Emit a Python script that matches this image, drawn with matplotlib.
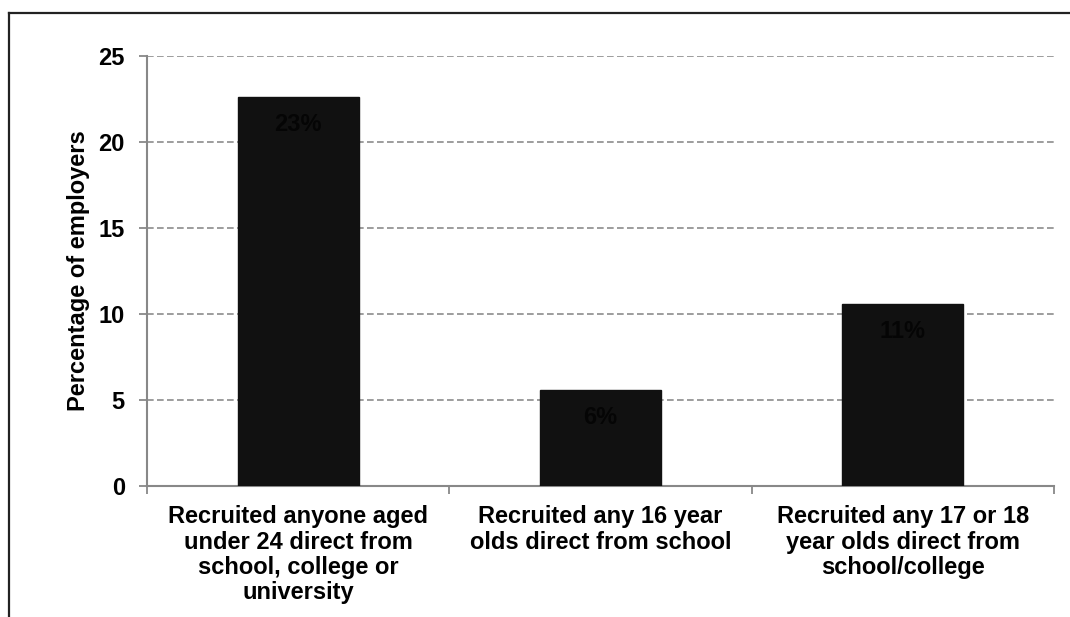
import matplotlib
matplotlib.use("Agg")
import matplotlib.pyplot as plt
from matplotlib.lines import Line2D
import numpy as np

categories = [
    "Recruited anyone aged\nunder 24 direct from\nschool, college or\nuniversity",
    "Recruited any 16 year\nolds direct from school",
    "Recruited any 17 or 18\nyear olds direct from\nschool/college",
]
values = [22.6, 5.6, 10.6]
value_labels = ["23%", "6%", "11%"]
y_ticks = [0, 5, 10, 15, 20, 25]
y_label = "Percentage of employers"

plt.rcParams["font.family"] = ["Liberation Sans", "DejaVu Sans"]
plt.rcParams["font.weight"] = "bold"

fig = plt.figure(figsize=(10.70, 6.17), dpi=100)
ax = fig.add_axes([0.1374, 0.2123, 0.8476, 0.6969])

x = np.arange(len(categories))
ax.bar(x, values, width=0.4, color="#111111", edgecolor="#111111", zorder=3)

for xi, v, lab in zip(x, values, value_labels):
    ax.text(xi, v - 1.6, lab, ha="center", va="center", fontsize=17,
            fontweight="bold", color="#050505", zorder=4)

ax.set_xlim(-0.5, len(categories) - 0.5)
ax.set_ylim(0, 25)
ax.set_yticks(y_ticks)
ax.set_yticklabels([str(t) for t in y_ticks], fontsize=17, fontweight="bold")

# category boundary ticks with labels centred between them
ax.set_xticks(np.arange(len(categories) + 1) - 0.5)
ax.set_xticklabels([])
ax.set_xticks(x, minor=True)
ax.set_xticklabels(categories, minor=True, fontsize=17, fontweight="bold",
                   linespacing=1.12)
ax.tick_params(axis="x", which="minor", length=0, pad=14)
ax.tick_params(axis="x", which="major", length=6, width=1.3, color="#888888",
               direction="out")
ax.tick_params(axis="y", length=6, width=1.3, color="#888888", pad=10)

ax.yaxis.grid(True, linestyle=(0, (4, 2)), color="#8c8c8c", linewidth=1.2, zorder=0)
ax.set_axisbelow(True)

for side in ["top", "right"]:
    ax.spines[side].set_visible(False)
for side in ["left", "bottom"]:
    ax.spines[side].set_color("#888888")
    ax.spines[side].set_linewidth(1.5)

ax.set_ylabel(y_label, fontsize=17, fontweight="bold", labelpad=6)

# outer frame on the left and top edges
fig.add_artist(Line2D([9 / 1070, 9 / 1070], [0, 1 - 13 / 617],
                      transform=fig.transFigure, color="#222222", linewidth=1.6))
fig.add_artist(Line2D([9 / 1070, 1], [1 - 13 / 617, 1 - 13 / 617],
                      transform=fig.transFigure, color="#222222", linewidth=1.6))

fig.savefig("out.png", dpi=100)
